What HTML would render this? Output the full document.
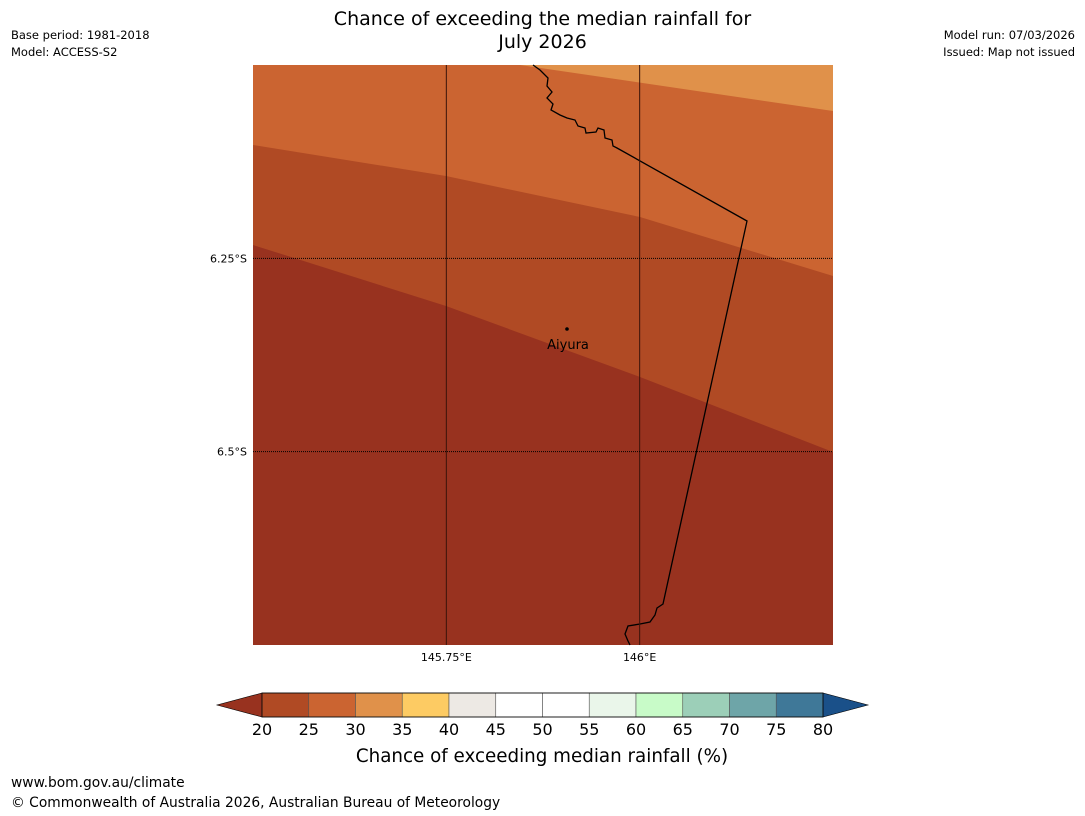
<!DOCTYPE html>
<html><head><meta charset="utf-8">
<style>
body{margin:0;background:#fff;font-family:"Liberation Sans","DejaVu Sans",sans-serif;}
#wrap{position:relative;width:1085px;height:816px;overflow:hidden;}
.t{position:absolute;white-space:nowrap;color:#000;}
</style></head><body>
<div id="wrap">
<div class="t" style="left:0;width:1085px;top:8px;text-align:center;font-family:'DejaVu Sans',sans-serif;font-size:19px;line-height:23px;">Chance of exceeding the median rainfall for<br>July 2026</div>
<div class="t" style="left:11px;top:27px;font-size:11.5px;font-family:'DejaVu Sans',sans-serif;line-height:17px;">Base period: 1981-2018<br>Model: ACCESS-S2</div>
<div class="t" style="right:10px;top:27px;font-size:11.5px;font-family:'DejaVu Sans',sans-serif;line-height:17px;text-align:right;">Model run: 07/03/2026<br>Issued: Map not issued</div>
<svg id="svg" width="1085" height="816" style="position:absolute;left:0;top:0"></svg>
<div class="t" style="left:11px;top:775px;font-size:13.8px;font-family:'DejaVu Sans',sans-serif;">www.bom.gov.au/climate</div>
<div class="t" style="left:11px;top:795px;font-size:13.8px;font-family:'DejaVu Sans',sans-serif;">© Commonwealth of Australia 2026, Australian Bureau of Meteorology</div>
</div>
<script>
const levels=[20,25,30,35,40,45,50,55,60,65,70,75,80];
const levelColors=["#b04a24","#cb6431","#e0914a","#fdcb63","#ede9e4","#ffffff","#ffffff","#eaf6ea","#c8fbc8","#9ccfb8","#6ea5a8","#3f7898"];
const extColors=["#98321f","#1a5089"];
const lonTicks=[145.75,146.0];
const lonLabels=["145.75°E","146°E"];
const latTicks=[-6.25,-6.5];
const latLabels=["6.25°S","6.5°S"];
const NS="http://www.w3.org/2000/svg";
const svg=document.getElementById('svg');
function mk(tag,attrs,name){const e=document.createElementNS(NS,tag);for(const k in attrs)e.setAttribute(k,attrs[k]);


svg.appendChild(e);return e;}
const X0=253,X1=833,Y0=65,Y1=645,lon0=145.5,lon1=146.25,lat0=-6.0,lat1=-6.75;
const xs=v=>X0+(v-lon0)/(lon1-lon0)*(X1-X0);
const ys=v=>Y0+(v-lat0)/(lat1-lat0)*(Y1-Y0);
mk('rect',{x:X0,y:Y0,width:X1-X0,height:Y1-Y0,fill:"#98321f"},'band-below-20');
mk('polygon',{points:"253,65 833,65 833,452 640,377 446,306 253,245",fill:"#b04a24"},'band-20-25');
mk('polygon',{points:"253,65 833,65 833,276 640,217 446,176 253,145",fill:"#cb6431"},'band-25-30');
mk('polygon',{points:"520,65 833,65 833,111",fill:"#e0914a"},'band-30-35');
mk('path',{d:"M533,65 L540,70 548,78 547,86 552,92 547,98 553,104 551,110 560,115 567,118 575,120 578,126 585,128 586,133 596,132 598,128 604,130 605,138 612,140 613,146 617,148 747,221 663,604 657,608 655,615 650,622 640,624 628,626 625,634 628,641 630,645",fill:"none",stroke:"#000","stroke-width":1.3},'border-line');
lonTicks.forEach((v,i)=>{mk('line',{x1:xs(v),x2:xs(v),y1:Y0,y2:Y1,stroke:"#3a140a","stroke-width":1},'lon-gridline');
const t=mk('text',{x:xs(v),y:661,"text-anchor":"middle","font-size":11,"font-family":"DejaVu Sans, sans-serif"},'lon-label');t.textContent=lonLabels[i];});
latTicks.forEach((v,i)=>{mk('line',{x1:X0,x2:X1,y1:ys(v),y2:ys(v),stroke:"#000","stroke-width":1,"stroke-dasharray":"1,1"},'lat-gridline');
const t=mk('text',{x:247,y:ys(v)+4,"text-anchor":"end","font-size":11,"font-family":"DejaVu Sans, sans-serif"},'lat-label');t.textContent=latLabels[i];});
mk('circle',{cx:567,cy:329,r:1.8,fill:"#000"},'aiyura-dot');
const al=mk('text',{x:568,y:349,"text-anchor":"middle","font-size":13,"font-family":"DejaVu Sans, sans-serif"},'aiyura-label');al.textContent="Aiyura";
const C0=262,C1=823,CY=693,CH=24;
const cx=v=>C0+(v-levels[0])/(levels[levels.length-1]-levels[0])*(C1-C0);
mk('polygon',{points:`${C0},${CY} ${C0},${CY+CH} 217,${CY+CH/2}`,fill:extColors[0],stroke:"#000","stroke-width":0.6},'colorbar-extend-low');
mk('polygon',{points:`${C1},${CY} ${C1},${CY+CH} 868,${CY+CH/2}`,fill:extColors[1],stroke:"#000","stroke-width":0.6},'colorbar-extend-high');
for(let i=0;i<levelColors.length;i++){
mk('rect',{x:cx(levels[i]),y:CY,width:cx(levels[i+1])-cx(levels[i]),height:CH,fill:levelColors[i],stroke:"#555","stroke-width":0.6},'colorbar-segment');}
mk('rect',{x:C0,y:CY,width:C1-C0,height:CH,fill:"none",stroke:"#000","stroke-width":0.8},'colorbar-frame');
levels.forEach(v=>{const t=mk('text',{x:cx(v),y:735,"text-anchor":"middle","font-size":16,"font-family":"DejaVu Sans, sans-serif"},'colorbar-tick');t.textContent=v;});
const ct=mk('text',{x:542,y:762,"text-anchor":"middle","font-size":18.3,"font-family":"DejaVu Sans, sans-serif"},'colorbar-title');ct.textContent="Chance of exceeding median rainfall (%)";
</script>
</body></html>
